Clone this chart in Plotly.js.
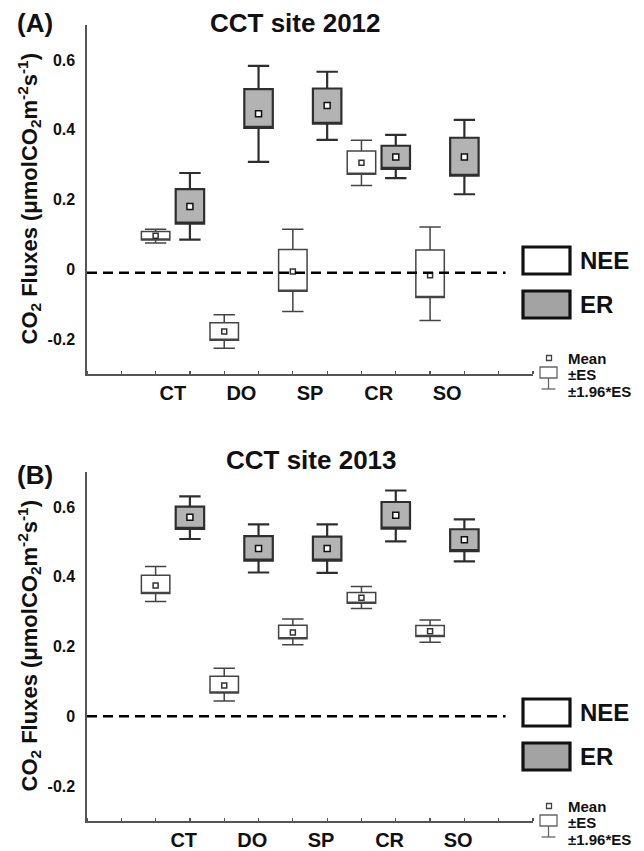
<!DOCTYPE html>
<html>
<head>
<meta charset="utf-8">
<script src="https://cdn.plot.ly/plotly-3.0.1.min.js"></script>
<style>
html,body{margin:0;padding:0;background:#fff;}
#chart{width:644px;height:851px;}
</style>
</head>
<body>
<div id="chart"></div>
<script>
// ---------- data ----------
const categories = ['CT', 'DO', 'SP', 'CR', 'SO'];
const yTickVals = [-0.2, 0, 0.2, 0.4, 0.6];
const yTickText = ['-0.2', '0', '0.2', '0.4', '0.6'];

// 2012 NEE
const nee2012Mean      = [0.096, -0.178, -0.006, 0.305, -0.017];
const nee2012EsLow     = [0.084, -0.203, -0.063, 0.272, -0.081];
const nee2012EsHigh    = [0.108, -0.153,  0.057, 0.339,  0.055];
const nee2012CiLow     = [0.075, -0.226, -0.121, 0.240, -0.147];
const nee2012CiHigh    = [0.115, -0.130,  0.115, 0.370,  0.121];
// 2012 ER
const er2012Mean       = [0.180, 0.446, 0.469, 0.322, 0.322];
const er2012EsLow      = [0.131, 0.405, 0.417, 0.288, 0.268];
const er2012EsHigh     = [0.230, 0.516, 0.518, 0.354, 0.377];
const er2012CiLow      = [0.085, 0.308, 0.371, 0.261, 0.215];
const er2012CiHigh     = [0.276, 0.583, 0.566, 0.385, 0.428];
// 2013 NEE
const nee2013Mean      = [0.375, 0.088, 0.240, 0.340, 0.244];
const nee2013EsLow     = [0.352, 0.067, 0.222, 0.324, 0.229];
const nee2013EsHigh    = [0.404, 0.115, 0.261, 0.355, 0.260];
const nee2013CiLow     = [0.329, 0.044, 0.205, 0.309, 0.212];
const nee2013CiHigh    = [0.429, 0.138, 0.279, 0.372, 0.276];
// 2013 ER
const er2013Mean       = [0.570, 0.481, 0.481, 0.576, 0.506];
const er2013EsLow      = [0.537, 0.446, 0.446, 0.538, 0.473];
const er2013EsHigh     = [0.601, 0.516, 0.515, 0.614, 0.536];
const er2013CiLow      = [0.508, 0.412, 0.411, 0.501, 0.444];
const er2013CiHigh     = [0.630, 0.550, 0.550, 0.647, 0.564];

const refLine2012 = -0.01;
const refLine2013 = 0;

// ---------- layout helpers ----------
const W = 644, H = 851;
const M = {l: 87, r: 111, t: 25, b: 30};
const PW = W - M.l - M.r, PH = H - M.t - M.b;
const px = x => (x - M.l) / PW;
const py = y => (H - M.b - y) / PH;

const neeX = categories.map((c, i) => 2 + 2 * i);
const erX  = categories.map((c, i) => 3 + 2 * i);
const labelXTop = categories.map((c, i) => 2.5 + 2 * i);
const labelXBot = categories.map((c, i) => 2.82 + 2 * i);

const FONT = 'Liberation Sans, Arial, Helvetica, sans-serif';
const AXC = '#555';
const ERFILL = '#b3b3b3';

function boxTrace(xs, lo, hi, clo, chi, xa, ya, isER) {
  return {
    type: 'box', x: xs, q1: lo, median: lo, q3: hi,
    lowerfence: clo, upperfence: chi,
    fillcolor: isER ? ERFILL : '#ffffff',
    line: {color: isER ? '#2e2e2e' : '#444', width: isER ? 2.2 : 1.5},
    width: 0.83, whiskerwidth: 0.75, boxpoints: false,
    hoverinfo: 'skip', showlegend: false, xaxis: xa, yaxis: ya
  };
}
function meanTrace(xs, m, xa, ya, isER) {
  return {
    type: 'scatter', mode: 'markers', x: xs, y: m,
    marker: {symbol: 'square', size: isER ? 6 : 5, color: '#fff',
             line: {color: isER ? '#111' : '#333', width: 1.5}},
    hoverinfo: 'skip', showlegend: false, xaxis: xa, yaxis: ya, cliponaxis: false
  };
}

const data = [
  boxTrace(neeX, nee2012EsLow, nee2012EsHigh, nee2012CiLow, nee2012CiHigh, 'x', 'y', false),
  boxTrace(erX, er2012EsLow, er2012EsHigh, er2012CiLow, er2012CiHigh, 'x', 'y', true),
  meanTrace(neeX, nee2012Mean, 'x', 'y', false),
  meanTrace(erX, er2012Mean, 'x', 'y', true),
  boxTrace(neeX, nee2013EsLow, nee2013EsHigh, nee2013CiLow, nee2013CiHigh, 'x2', 'y2', false),
  boxTrace(erX, er2013EsLow, er2013EsHigh, er2013CiLow, er2013CiHigh, 'x2', 'y2', true),
  meanTrace(neeX, nee2013Mean, 'x2', 'y2', false),
  meanTrace(erX, er2013Mean, 'x2', 'y2', true)
];

function xAxis(anchor, tickX, standoff) {
  return {
    anchor: anchor, domain: [0, 1], range: [0, 13],
    tickmode: 'array', tickvals: tickX, ticktext: categories,
    ticks: '', ticklabelstandoff: standoff,
    tickfont: {family: FONT, size: 20, color: '#111', weight: 'bold'},
    showline: true, linecolor: AXC, linewidth: 1.6,
    showgrid: false, zeroline: false, fixedrange: true,
    minor: {tickmode: 'linear', tick0: 0, dtick: 1, ticks: 'inside', ticklen: 3, tickwidth: 1.2, tickcolor: AXC}
  };
}
function yAxis(anchor, domain) {
  return {
    anchor: anchor, domain: domain, range: [-0.3, 0.7],
    tickmode: 'array', tickvals: yTickVals, ticktext: yTickText,
    ticks: '', ticklabelstandoff: 7,
    tickfont: {family: FONT, size: 16, color: '#111', weight: 'bold'},
    showline: true, linecolor: AXC, linewidth: 1.6,
    showgrid: false, zeroline: false, fixedrange: true
  };
}

const shapes = [];
const annotations = [];
function txt(text, x, y, size, xanchor, extra) {
  annotations.push(Object.assign({
    text: '<b>' + text + '</b>', xref: 'paper', yref: 'paper', x: x, y: y,
    xanchor: xanchor || 'left', yanchor: 'middle', showarrow: false,
    font: {family: FONT, size: size, color: '#111'}
  }, extra || {}));
}
function rect(x0, y0, x1, y1, fill, lc, lw) {
  shapes.push({type: 'rect', xref: 'paper', yref: 'paper',
    x0: px(x0), x1: px(x1), y0: py(y1), y1: py(y0),
    fillcolor: fill, line: {color: lc, width: lw}});
}
function line(x0, y0, x1, y1, lc, lw) {
  shapes.push({type: 'line', xref: 'paper', yref: 'paper',
    x0: px(x0), x1: px(x1), y0: py(y0), y1: py(y1),
    line: {color: lc, width: lw}});
}

// reference dashed lines
shapes.push({type: 'line', xref: 'x', yref: 'y', x0: 0, x1: 12.2, y0: refLine2012, y1: refLine2012,
  line: {color: '#000', width: 2.5, dash: '10px,6px'}});
shapes.push({type: 'line', xref: 'x2', yref: 'y2', x0: 0, x1: 12.2, y0: refLine2013, y1: refLine2013,
  line: {color: '#000', width: 2.5, dash: '10px,6px'}});

// panel decorations: titles, letters, y titles, legends
const yTitle = 'CO<sub>2</sub> Fluxes (μmolCO<sub>2</sub>m<sup>-2</sup>s<sup>-1</sup>)';
const panels = [
  {title: 'CCT site 2012', letter: '(A)', tx: 295, ty: 23, ly: 23, top: 25, bot: 374, leg: 247, sm: 358},
  {title: 'CCT site 2013', letter: '(B)', tx: 311, ty: 460, ly: 475, top: 472, bot: 821, leg: 699, sm: 806}
];
panels.forEach(p => {
  txt(p.title, px(p.tx), py(p.ty), 26, 'center');
  txt(p.letter, px(15), py(p.ly), 26, 'left');
  txt(yTitle, px(29), py((p.top + p.bot) / 2), 22, 'center', {textangle: -90});
  // big legend
  rect(523, p.leg, 570, p.leg + 27, '#ffffff', '#111', 3.2);
  rect(523, p.leg + 44, 570, p.leg + 71, '#a3a3a3', '#111', 3.2);
  txt('NEE', px(578), py(p.leg + 13.5), 24, 'left');
  txt('ER', px(578), py(p.leg + 57.5), 24, 'left');
  // small legend
  const s = p.sm;
  rect(546.5, s - 2.5, 551.5, s + 2.5, '#fff', '#444', 1.3);
  rect(540, s + 9, 557, s + 20, '#fff', '#666', 1.3);
  line(548.5, s + 20, 548.5, s + 31, '#666', 1.3);
  line(541.5, s + 31, 555.5, s + 31, '#666', 1.3);
  txt('Mean', px(566), py(s), 15, 'left');
  txt('±ES', px(566), py(s + 16), 15, 'left');
  txt('±1.96*ES', px(566), py(s + 33), 15, 'left');
});

const layout = {
  width: W, height: H, margin: M,
  paper_bgcolor: '#fff', plot_bgcolor: '#fff',
  showlegend: false, boxmode: 'overlay',
  font: {family: FONT, color: '#111', size: 15},
  xaxis: xAxis('y', labelXTop, 0), yaxis: yAxis('x', [py(374), 1]),
  xaxis2: xAxis('y2', labelXBot, 0), yaxis2: yAxis('x2', [0, py(472)]),
  shapes: shapes, annotations: annotations
};

Plotly.newPlot('chart', data, layout, {staticPlot: true, displayModeBar: false});
</script>
</body>
</html>
